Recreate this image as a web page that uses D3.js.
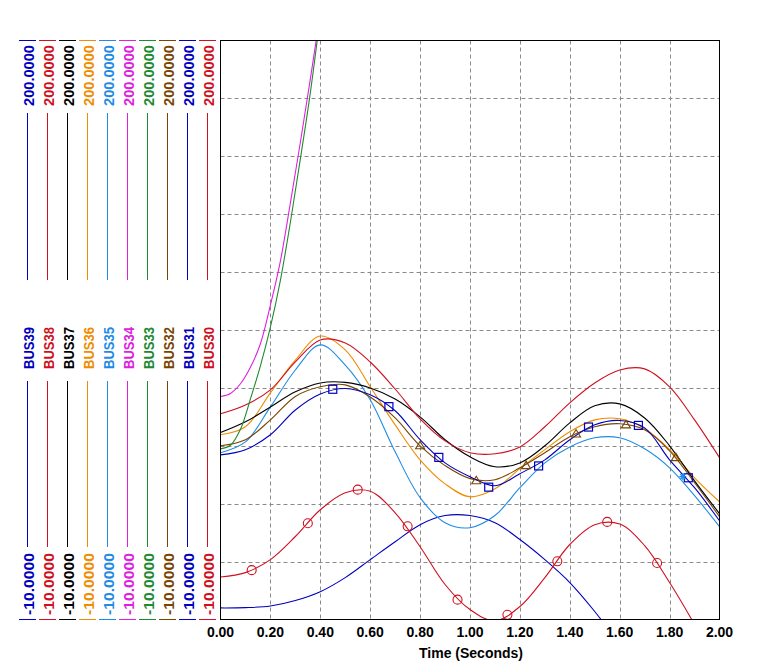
<!DOCTYPE html>
<html><head><meta charset="utf-8">
<script src="https://cdn.jsdelivr.net/npm/d3@7"></script>
<style>body{margin:0;background:#fff}svg{display:block}</style>
</head><body><svg id="c" width="768" height="665"></svg>
<script>
// ---------- data ----------
const time = [0,0.1,0.2,0.3,0.4,0.5,0.6,0.7,0.8,0.9,1.0,1.1,1.2,1.3,1.4,1.5,1.6,1.7,1.8,1.9,2.0];
const bus39 = [-5.8,-5.7,-5.1,-3.1,0.1,5.2,11.7,18.2,24.4,27.7,27.7,25.1,19.0,11.7,3.4,-7.1,-19.1,null,null,null,null];
const bus38 = [64.6,67.8,73.3,83.4,91.4,90.3,83.4,73.6,62.8,54.8,50.5,50.1,52.6,59.9,68.6,75.8,80.5,80.9,74.4,62.4,48.7];
const bus37 = [57.8,61.7,67.1,72.6,75.8,76.0,74.0,70.0,63.5,55.2,49.0,45.4,46.8,53.0,61.3,67.5,68.2,63.1,53.0,40.3,28.4];
const bus36 = [57.0,59.9,72.2,84.1,92.8,87.8,74.4,60.6,47.9,39.2,34.5,37.4,44.7,51.6,58.1,62.4,62.8,59.2,51.6,41.4,32.7];
const bus35 = [50.5,54.4,67.1,80.5,89.6,82.3,69.7,50.8,34.2,25.1,23.3,27.7,37.8,46.8,52.6,55.9,55.9,51.9,45.0,34.9,23.7];
const steepTime = [0,0.04,0.08,0.12,0.16,0.2,0.24,0.28,0.32,0.36,0.4];
const bus34 = [70.9,72.0,75.5,81.5,90,104,120,141,163,186,210];
const bus33 = [51.9,53.2,59,70,82,96,113,134,157,181,209];
const bus32 = [53.0,55.2,62.4,70.9,74.4,75.1,70.7,63.1,53.0,45.8,41.1,40.7,45.0,50.5,56.3,59.9,61.0,58.8,51.2,39.6,27.3];
const bus31 = [49.7,51.6,57.0,66.0,71.8,73.8,71.5,65.7,55.2,46.8,41.8,38.5,42.9,47.9,55.2,60.6,62.2,59.5,47.9,37.8,25.8];
const bus30 = [5.4,7.0,11.7,20.1,29.8,36.0,36.5,28.7,16.4,2.7,-6.4,-10.5,-5.3,5.2,17.2,24.4,24.6,16.8,3.4,-11.8,-28.1];

// markers
const bus30MarkTime = [0.125,0.35,0.55,0.75,0.95,1.15,1.35,1.55,1.75];
const bus30MarkVal  = [7.9,24.9,37.1,23.8,-2.8,-8.3,11.1,25.4,10.5];
const bus31MarkTime = [0.45,0.675,0.875,1.075,1.275,1.475,1.675,1.875];
const bus31MarkVal  = [73.5,67.2,48.8,38.0,45.7,59.8,60.4,41.4];
const bus32MarkTime = [0.8,1.025,1.225,1.425,1.625,1.825];
const bus32MarkVal  = [53.0,40.3,45.8,57.3,60.6,48.7];
const bus35MarkTime = [1.853];
const bus35MarkVal  = [41.8];

// legend
const seriesNames  = ["BUS39","BUS38","BUS37","BUS36","BUS35","BUS34","BUS33","BUS32","BUS31","BUS30"];
const seriesColors = ["#0000c0","#d01020","#000000","#f08c00","#1e8ce6","#e020e0","#208a30","#7a4400","#0000c0","#d01020"];
const legendMax = "200.0000";
const legendMin = "-10.0000";
const xTickLabels = ["0.00","0.20","0.40","0.60","0.80","1.00","1.20","1.40","1.60","1.80","2.00"];
const xTickValues = [0,0.2,0.4,0.6,0.8,1.0,1.2,1.4,1.6,1.8,2.0];
const yGridValues = [11,32,53,74,95,116,137,158,179];
const xTitle = "Time (Seconds)";

// ---------- drawing ----------
const svg = d3.select("#c");
svg.append("rect").attr("width",768).attr("height",665).attr("fill","#fff");
const L = 220.5, R = 719.5, T = 40.5, B = 619.5;
const x = d3.scaleLinear().domain([0,2]).range([L,R]);
const y = d3.scaleLinear().domain([-10,200]).range([B,T]);

svg.append("clipPath").attr("id","clip").append("rect")
  .attr("x",L).attr("y",T).attr("width",R-L).attr("height",B-T);

// grid
const grid = svg.append("g").attr("stroke","#8a8a8a").attr("stroke-width",1).attr("stroke-dasharray","4,3");
xTickValues.slice(1,-1).forEach(v=>{
  const px = Math.round(x(v))+0.5;
  grid.append("line").attr("x1",px).attr("x2",px).attr("y1",T).attr("y2",B);
});
yGridValues.forEach(v=>{
  const py = Math.round(y(v))+0.5;
  grid.append("line").attr("x1",L).attr("x2",R).attr("y1",py).attr("y2",py);
});

const plot = svg.append("g").attr("clip-path","url(#clip)");
const line = d3.line().defined(d=>d[1]!==null).x(d=>x(d[0])).y(d=>y(d[1])).curve(d3.curveCatmullRom.alpha(0.5));
const zip = (t,v)=>t.map((tt,i)=>[tt,v[i]]);

const series = [
  [time,bus39,seriesColors[0]],
  [time,bus30,seriesColors[9]],
  [time,bus35,seriesColors[4]],
  [time,bus36,seriesColors[3]],
  [time,bus32,seriesColors[7]],
  [time,bus31,seriesColors[8]],
  [time,bus37,seriesColors[2]],
  [time,bus38,seriesColors[1]],
  [steepTime,bus33,seriesColors[6]],
  [steepTime,bus34,seriesColors[5]],
];
series.forEach(([t,v,c])=>{
  plot.append("path").attr("d",line(zip(t,v))).attr("fill","none").attr("stroke",c).attr("stroke-width",1.1);
});

// markers
zip(bus30MarkTime,bus30MarkVal).forEach(d=>{
  plot.append("circle").attr("cx",x(d[0])).attr("cy",y(d[1])).attr("r",4.5)
    .attr("fill","none").attr("stroke",seriesColors[9]).attr("stroke-width",1.1);
});
zip(bus31MarkTime,bus31MarkVal).forEach(d=>{
  plot.append("rect").attr("x",x(d[0])-4).attr("y",y(d[1])-4).attr("width",8).attr("height",8)
    .attr("fill","none").attr("stroke",seriesColors[8]).attr("stroke-width",1.2);
});
zip(bus32MarkTime,bus32MarkVal).forEach(d=>{
  const cx=x(d[0]), cy=y(d[1]);
  plot.append("path").attr("d",`M${cx},${cy-4.5}L${cx+4.5},${cy+3}L${cx-4.5},${cy+3}Z`)
    .attr("fill","none").attr("stroke",seriesColors[7]).attr("stroke-width",1.1);
});
zip(bus35MarkTime,bus35MarkVal).forEach(d=>{
  const cx=x(d[0]), cy=y(d[1]), s=3.5;
  const g = plot.append("g").attr("stroke",seriesColors[4]).attr("stroke-width",1.3);
  g.append("line").attr("x1",cx-s).attr("x2",cx+s).attr("y1",cy).attr("y2",cy);
  g.append("line").attr("x1",cx).attr("x2",cx).attr("y1",cy-s).attr("y2",cy+s);
  g.append("line").attr("x1",cx-s*0.75).attr("x2",cx+s*0.75).attr("y1",cy-s*0.75).attr("y2",cy+s*0.75);
  g.append("line").attr("x1",cx-s*0.75).attr("x2",cx+s*0.75).attr("y1",cy+s*0.75).attr("y2",cy-s*0.75);
});

// frame
svg.append("rect").attr("x",L).attr("y",T).attr("width",R-L).attr("height",B-T)
  .attr("fill","none").attr("stroke","#000").attr("stroke-width",1);

// x axis labels
const font = "'Liberation Sans', Arial, sans-serif";
xTickValues.forEach((v,i)=>{
  svg.append("text").attr("x",x(v)).attr("y",637).attr("text-anchor","middle")
    .attr("font-family",font).attr("font-weight","bold").attr("font-size",14)
    .attr("fill","#000").text(xTickLabels[i]);
});
svg.append("text").attr("x",471).attr("y",658).attr("text-anchor","middle")
  .attr("font-family",font).attr("font-weight","bold").attr("font-size",14)
  .attr("fill","#000").text(xTitle);

// legend columns
seriesNames.forEach((name,i)=>{
  const cx = 27.5 + 20*i;
  const c = seriesColors[i];
  const g = svg.append("g");
  g.append("line").attr("x1",cx-8.5).attr("x2",cx+8.5).attr("y1",40.5).attr("y2",40.5).attr("stroke",c).attr("stroke-width",1);
  g.append("line").attr("x1",cx-8.5).attr("x2",cx+8.5).attr("y1",619.5).attr("y2",619.5).attr("stroke",c).attr("stroke-width",1);
  g.append("line").attr("x1",cx).attr("x2",cx).attr("y1",113).attr("y2",280).attr("stroke",c).attr("stroke-width",1);
  g.append("line").attr("x1",cx).attr("x2",cx).attr("y1",381).attr("y2",547).attr("stroke",c).attr("stroke-width",1);
  const txt = (s,cy,len)=>{
    g.append("text").attr("transform",`translate(${cx+1},${cy}) rotate(-90)`)
      .attr("text-anchor","middle").attr("dy","0.36em")
      .attr("font-family",font).attr("font-weight","bold").attr("font-size",14)
      .attr("textLength",len).attr("lengthAdjust","spacingAndGlyphs")
      .attr("fill",c).text(s);
  };
  txt(legendMax,75.5,61);
  txt(name,348,42);
  txt(legendMin,584,62);
});
</script></body></html>
